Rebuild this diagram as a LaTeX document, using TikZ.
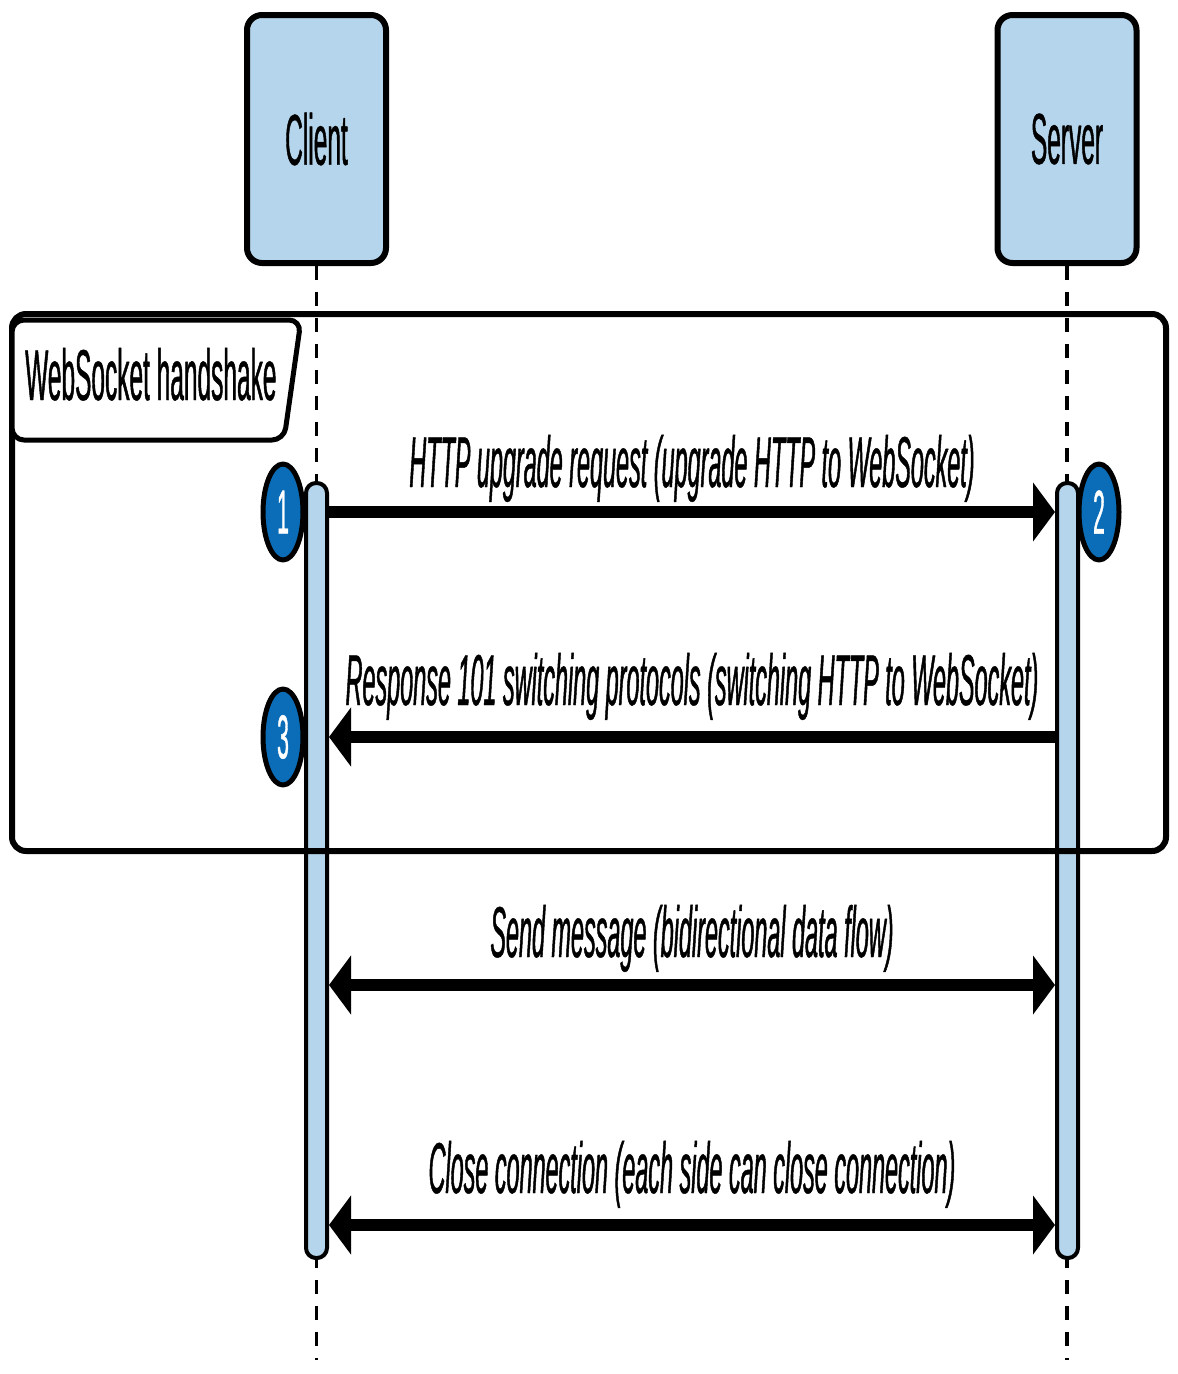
\documentclass[tikz,border=0pt]{standalone}
\usepackage{fontspec}
\setmainfont[FakeStretch=0.34, FakeBold=0.6]{Liberation Sans}
\newfontfamily\msgfont[FakeStretch=0.325, FakeBold=0.6]{Liberation Sans}
\usetikzlibrary{arrows.meta, shapes.geometric}
\definecolor{lightblue}{HTML}{B4D5EB}
\definecolor{stepblue}{HTML}{0B6DB7}

\begin{document}
\begin{tikzpicture}[x=1pt, y=-1pt, line join=round, line cap=round,
  font=\fontsize{72}{80}\selectfont,
  actor/.style={draw, line width=6pt, fill=lightblue, rounded corners=15pt, minimum width=139pt, minimum height=248pt, inner sep=0pt},
  bar/.style={draw, line width=4pt, fill=lightblue, rounded corners=10pt, minimum width=21pt, minimum height=775pt, inner sep=0pt},
  life/.style={line width=3.5pt, line cap=butt, dash pattern=on 14pt off 12pt},
  msg/.style={line width=12pt, line cap=butt},
  tip/.style={-{Triangle[length=22pt, width=58pt]}},
  both/.style={{Triangle[length=22pt, width=58pt]}-{Triangle[length=22pt, width=58pt]}},
  num/.style={ellipse, draw, line width=5pt, fill=stepblue, text=white, minimum width=40pt, minimum height=96pt, inner sep=0pt, font=\fontsize{62}{66}\selectfont},
  lbl/.style={anchor=base, yshift=#1, font=\fontsize{72}{80}\msgfont\itshape}, lbl/.default=30pt]
\useasboundingbox (0,0) rectangle (1178,1374);
% actors and lifelines
\node[actor] (client) at (316.5,139) {Client};
\node[actor] (server) at (1067,139) {Server};
\coordinate (clientend) at (316.5,1360);
\coordinate (serverend) at (1067,1360);
\draw[life] (client.south) -- (clientend);
\draw[life] (server.south) -- (serverend);
\node[bar] (clientbar) at (316.5,870.5) {};
\node[bar] (serverbar) at (1067.5,870.5) {};
% handshake frame
\draw[line width=6pt, rounded corners=14pt] (12,314) rectangle (1166,851);
\draw[line width=5pt, fill=white, rounded corners=12pt] (12,320) -- (301,320) -- (284,440) -- (12,440) -- cycle;
\node[anchor=base west, inner sep=0pt] (handshake) at (25,400) {WebSocket handshake};
% messages
\draw[msg, tip] (clientbar.east |- 0,512) -- (serverbar.west |- 0,512) node[lbl=25pt, midway] (request) {HTTP upgrade request (upgrade HTTP to WebSocket)};
\draw[msg, tip] (serverbar.west |- 0,737) -- (clientbar.east |- 0,737) node[lbl=32pt, midway] (response) {Response 101 switching protocols (switching HTTP to WebSocket)};
\draw[msg, both] (clientbar.east |- 0,985) -- (serverbar.west |- 0,985) node[lbl=28pt, midway] (send) {Send message (bidirectional data flow)};
\draw[msg, both] (clientbar.east |- 0,1225) -- (serverbar.west |- 0,1225) node[lbl=32pt, midway] (close) {Close connection (each side can close connection)};
% steps
\node[num] (one) at (283,512) {1};
\node[num] (two) at (1099,512) {2};
\node[num] (three) at (283,737) {3};
\end{tikzpicture}
\end{document}
